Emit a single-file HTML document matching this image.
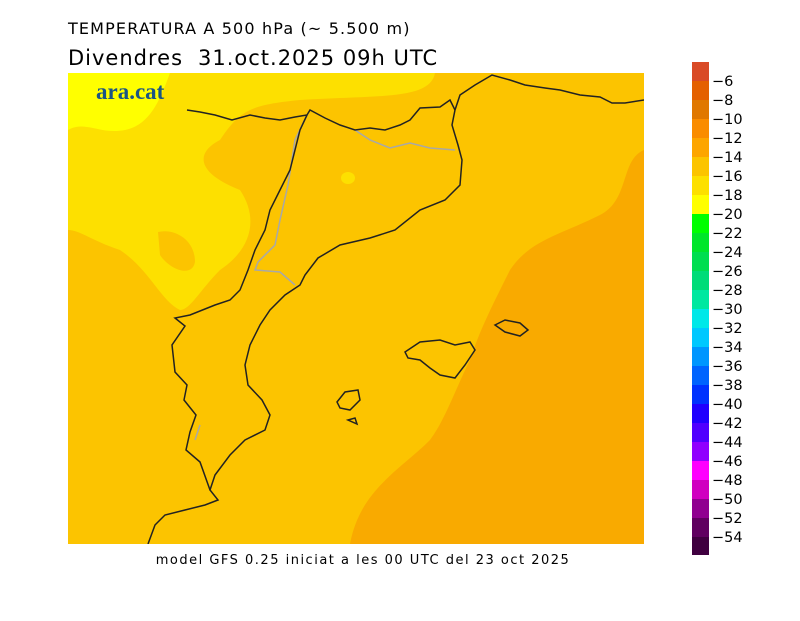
<!DOCTYPE html>
<html><head><meta charset="utf-8"><style>
body{margin:0;background:#fff;width:800px;height:617px;overflow:hidden;font-family:"DejaVu Sans","Liberation Sans",sans-serif}
</style></head><body>
<svg width="800" height="617" xmlns="http://www.w3.org/2000/svg" font-family="DejaVu Sans, Liberation Sans, sans-serif">
<text x="68" y="34" font-size="16" fill="#000" letter-spacing="1.15">TEMPERATURA A 500 hPa (~ 5.500 m)</text>
<text x="68" y="65" font-size="21" fill="#000" letter-spacing="1">Divendres</text>
<text x="198" y="65" font-size="21" fill="#000" letter-spacing="1">31.oct.2025 09h UTC</text>
<clipPath id="c"><rect x="68" y="73" width="576" height="471"/></clipPath>
<g clip-path="url(#c)">
<rect x="68" y="73" width="576" height="471" fill="#fcc400"/>
<path d="M68 73 H435 C430 100 380 95 300 100 C250 105 240 110 220 140 C200 150 190 170 240 190 C260 220 250 250 220 270 C200 290 190 310 180 310 C160 300 150 270 120 250 C90 240 80 230 68 230 Z" fill="#fde000"/>
<path d="M68 73 H170 C160 100 150 125 125 130 C100 135 85 120 68 130 Z" fill="#ffff00"/>
<path d="M158 232 C175 228 195 240 195 262 C192 278 170 270 160 255 Z" fill="#fcc400"/>
<ellipse cx="348" cy="178" rx="7" ry="6" fill="#fde000"/>
<path d="M644 150 C620 160 630 200 600 215 C560 235 530 240 510 270 C490 310 480 330 470 360 C455 390 445 420 430 440 C400 470 360 490 350 544 H644 Z" fill="#f9aa00"/>
<g fill="none" stroke="#a8a8a8" stroke-width="1.5">
<path d="M307 115 L295 140 L288 185 L280 220 L275 245 L258 262 L255 270 L280 272 L295 285"/>
<path d="M355 130 L370 140 L390 148 L410 143 L430 148 L455 150"/>
<path d="M200 425 L195 440"/>
</g>
<g fill="none" stroke="#222" stroke-width="1.5">
<path d="M187 110 L200 112 L215 115 L232 120 L250 115 L265 118 L280 120 L295 117 L307 115 L310 110 L325 118 L340 125 L355 130 L370 128 L385 130 L400 125 L410 120 L420 108 L440 107 L450 100 L455 110"/>
<path d="M455 110 L460 95 L475 85 L492 75 L510 80 L525 85 L545 88 L560 90 L580 95 L600 97 L612 103 L625 103 L644 100"/>
<path d="M455 110 L452 125 L458 145 L462 160 L460 185 L445 200 L420 210 L395 230 L370 238 L340 245 L318 258 L305 275 L300 285 L285 295 L270 310 L260 325 L250 345 L245 365 L248 385 L262 400 L270 415 L265 430 L245 440 L230 455 L215 475 L210 490 L218 500 L205 505 L185 510 L165 515 L155 525 L148 544"/>
<path d="M307 115 L300 130 L295 150 L290 170 L280 190 L270 210 L265 230 L255 250 L248 270 L240 290 L230 300 L215 305 L190 315 L175 318 L185 326 L172 345 L175 372 L187 385 L184 400 L196 415 L190 432 L186 450 L200 462 L210 490"/>
<path d="M405 352 L420 342 L440 340 L455 345 L470 342 L475 350 L465 365 L455 378 L440 375 L430 368 L420 360 L408 358 Z"/>
<path d="M495 325 L505 320 L520 323 L528 330 L520 336 L505 332 Z"/>
<path d="M337 402 L345 392 L358 390 L360 400 L350 410 L340 408 Z"/>
<path d="M348 420 L355 418 L357 424 Z"/>
</g>
<text x="96" y="99" font-family="Liberation Serif, serif" font-weight="bold" font-size="23" fill="#1a5585">ara.cat</text>
</g>
<text x="363" y="564" font-size="13" text-anchor="middle" fill="#000" letter-spacing="1.5">model GFS 0.25 iniciat a les 00 UTC del 23 oct 2025</text>
<g font-size="14.5" fill="#000">
<rect x="692" y="62" width="17" height="19" fill="#d94a26"/>
<rect x="692" y="81" width="17" height="19" fill="#e46000"/>
<rect x="692" y="100" width="17" height="19" fill="#e07800"/>
<rect x="692" y="119" width="17" height="19" fill="#fa8c00"/>
<rect x="692" y="138" width="17" height="19" fill="#fda500"/>
<rect x="692" y="157" width="17" height="19" fill="#fcc400"/>
<rect x="692" y="176" width="17" height="19" fill="#fde000"/>
<rect x="692" y="195" width="17" height="19" fill="#ffff00"/>
<rect x="692" y="214" width="17" height="19" fill="#00ff00"/>
<rect x="692" y="233" width="17" height="19" fill="#00e62a"/>
<rect x="692" y="252" width="17" height="19" fill="#00de50"/>
<rect x="692" y="271" width="17" height="19" fill="#00dc78"/>
<rect x="692" y="290" width="17" height="19" fill="#00e8a0"/>
<rect x="692" y="309" width="17" height="19" fill="#00e8e8"/>
<rect x="692" y="328" width="17" height="19" fill="#00c8ff"/>
<rect x="692" y="347" width="17" height="19" fill="#0096ff"/>
<rect x="692" y="366" width="17" height="19" fill="#0064ff"/>
<rect x="692" y="385" width="17" height="19" fill="#0032ff"/>
<rect x="692" y="404" width="17" height="19" fill="#2000ff"/>
<rect x="692" y="423" width="17" height="19" fill="#5000ff"/>
<rect x="692" y="442" width="17" height="19" fill="#9000ff"/>
<rect x="692" y="461" width="17" height="19" fill="#ff00ff"/>
<rect x="692" y="480" width="17" height="19" fill="#d000c0"/>
<rect x="692" y="499" width="17" height="19" fill="#900090"/>
<rect x="692" y="518" width="17" height="19" fill="#600060"/>
<rect x="692" y="537" width="17" height="18" fill="#400040"/>
<text x="712" y="86">−6</text><text x="712" y="105">−8</text><text x="712" y="124">−10</text><text x="712" y="143">−12</text><text x="712" y="162">−14</text><text x="712" y="181">−16</text><text x="712" y="200">−18</text><text x="712" y="219">−20</text><text x="712" y="238">−22</text><text x="712" y="257">−24</text><text x="712" y="276">−26</text><text x="712" y="295">−28</text><text x="712" y="314">−30</text><text x="712" y="333">−32</text><text x="712" y="352">−34</text><text x="712" y="371">−36</text><text x="712" y="390">−38</text><text x="712" y="409">−40</text><text x="712" y="428">−42</text><text x="712" y="447">−44</text><text x="712" y="466">−46</text><text x="712" y="485">−48</text><text x="712" y="504">−50</text><text x="712" y="523">−52</text><text x="712" y="542">−54</text>
</g>
</svg>
</body></html>
